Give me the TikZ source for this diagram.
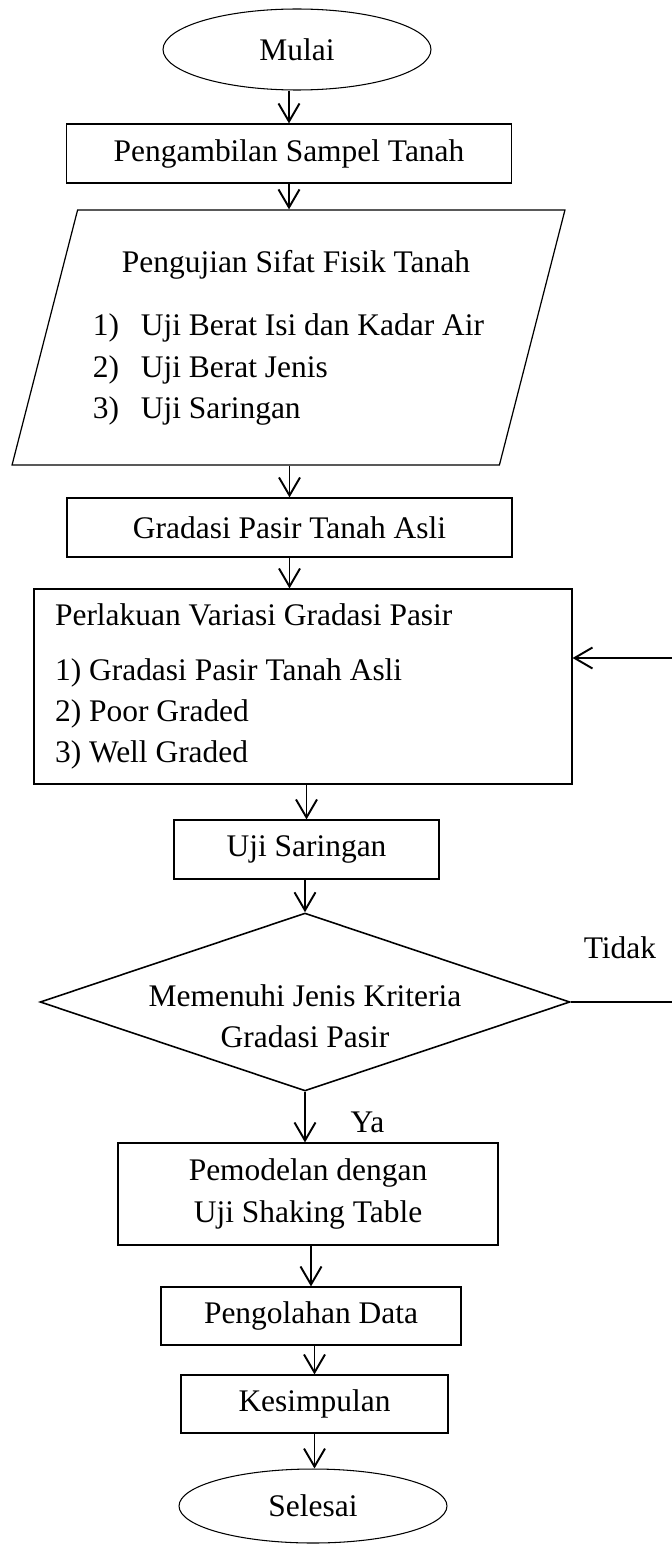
\documentclass[tikz,border=0pt]{standalone}
\usepackage{fontspec}
\setmainfont{Liberation Serif}
\usetikzlibrary{
	shapes.geometric,
	arrows.meta,
	positioning,
	calc
}

\begin{document}
\begin{tikzpicture}[
    x=0.02cm, y=-0.02cm,
    font=\fontsize{17.9}{23.5}\selectfont,
    block/.style={rectangle, draw, line width=0.7pt, align=center, inner sep=0pt, minimum height=1.18cm},
    terminal/.style={ellipse, draw, line width=0.6pt, inner sep=0pt, minimum width=5.36cm},
    inputbox/.style={trapezium, trapezium left angle=69.5, trapezium right angle=110.5, trapezium stretches body, draw, line width=0.7pt, inner sep=0pt, align=flush left},
    decision/.style={diamond, draw, line width=0.9pt, inner sep=0pt, minimum width=10.6cm, minimum height=3.56cm},
    arrow/.style={-{Straight Barb[length=0.36cm, width=0.42cm]}, line width=1.1pt},
    connector/.style={line width=1.1pt}
]
\useasboundingbox (0,0) rectangle (672,1544);

\node[terminal, minimum height=1.62cm] (mulai) at (297,49.5) {Mulai};
\node[block, minimum width=8.9cm] (sampel) at (289,153.5) {Pengambilan Sampel Tanah};
\node[inputbox, minimum width=11.06cm, minimum height=5.1cm] (fisik) at (288.5,337.5) {%
    \hspace*{0.58cm}Pengujian Sifat Fisik Tanah\\[12.8pt]
    \makebox[0.96cm][l]{1)}Uji Berat Isi dan Kadar Air\\
    \makebox[0.96cm][l]{2)}Uji Berat Jenis\\
    \makebox[0.96cm][l]{3)}Uji Saringan};
\node[block, minimum width=8.9cm] (gradasi) at (289.5,527.5) {Gradasi Pasir Tanah Asli};
\node[block, align=flush left, text width=9.92cm, inner xsep=0.42cm, minimum height=3.9cm] (perlakuan) at (303,686.5) {%
    Perlakuan Variasi Gradasi Pasir\\[7.7pt]
    1) Gradasi Pasir Tanah Asli\\
    2) Poor Graded\\
    3) Well Graded};
\node[block, minimum width=5.3cm] (saringan) at (306.5,849.5) {Uji Saringan};
\node[decision] (cek) at (305,1002) {};
\node[align=center] (cektext) at ([yshift=-0.28cm]cek.center) {Memenuhi Jenis Kriteria\\Gradasi Pasir};
\node[block, minimum width=7.6cm, minimum height=2.04cm] (pemodelan) at (308,1194) {Pemodelan dengan\\Uji Shaking Table};
\node[block, minimum width=6cm, minimum height=1.16cm] (olah) at (311,1316) {Pengolahan Data};
\node[block, minimum width=5.34cm, minimum height=1.16cm] (simpulan) at (314.5,1404) {Kesimpulan};
\node[terminal, minimum height=1.48cm] (selesai) at (313,1506) {Selesai};

\node (tidak) at (620,948) {Tidak};
\node (ya) at (367.5,1122) {Ya};
\coordinate (balik) at (690,658);

\draw[arrow] (sampel.north |- mulai.south) -- (sampel.north);
\draw[arrow] (sampel.south) -- (sampel.south |- fisik.north);
\draw[arrow] (gradasi.north |- fisik.south) -- (gradasi.north);
\draw[arrow] (gradasi.south) -- (gradasi.south |- perlakuan.north);
\draw[arrow] (saringan.north |- perlakuan.south) -- (saringan.north);
\draw[arrow] (cek.north |- saringan.south) -- (cek.north);
\draw[arrow] (cek.south) -- (cek.south |- pemodelan.north);
\draw[arrow] (olah.north |- pemodelan.south) -- (olah.north);
\draw[arrow] (simpulan.north |- olah.south) -- (simpulan.north);
\draw[arrow] (simpulan.south) -- (simpulan.south |- selesai.north);
\draw[arrow] (cek.east) -| (balik) -- (balik -| perlakuan.east);
\end{tikzpicture}
\end{document}
